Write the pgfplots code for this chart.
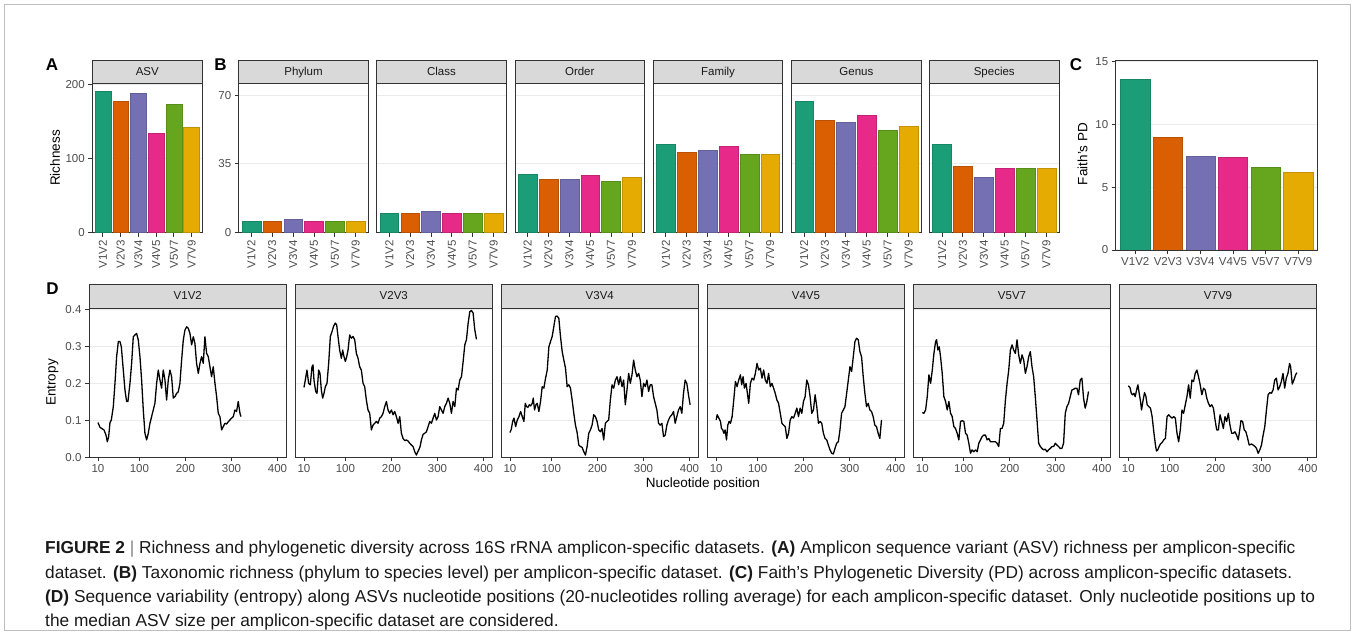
\documentclass[border=0pt]{standalone}
\usepackage{pgfplots}
\pgfplotsset{compat=1.18}
\usepackage{pgfplotstable}
\usepackage{fontspec}
\setmainfont{Liberation Sans}
\definecolor{cA}{HTML}{1B9E77}
\definecolor{cB}{HTML}{D95F02}
\definecolor{cC}{HTML}{7570B3}
\definecolor{cD}{HTML}{E7298A}
\definecolor{cE}{HTML}{66A61E}
\definecolor{cF}{HTML}{E6AB02}
\definecolor{g20}{HTML}{333333}
\definecolor{g30}{HTML}{4D4D4D}
\definecolor{g85}{HTML}{D9D9D9}
\definecolor{g92}{HTML}{EBEBEB}
\newcommand\tickfont{\fontsize{11.5}{13}\selectfont}
\newcommand\stripfont{\fontsize{11.5}{13}\selectfont}
\newcommand\titlefont{\fontsize{13.5}{16}\selectfont}
\newcommand\capfont{\fontsize{17.3}{20}\selectfont}
\pgfplotsset{
  gg/.style={
    scale only axis,
    axis line style={draw=g20, line width=0.9pt},
    tick style={draw=g20, line width=0.9pt},
    major tick length=4pt,
    tick align=outside,
    tick pos=left,
    ymajorgrids, grid style={draw=g92, line width=1pt},
    tick label style={font=\tickfont, text=g30},
    /pgf/number format/assume math mode=true,
  },
  bars/.style={gg, xmin=0.4, xmax=6.6, xtick={1,2,3,4,5,6},
    xticklabels={V1V2,V2V3,V3V4,V4V5,V5V7,V7V9}},
  rotx/.style={x tick label style={rotate=90, anchor=east}},
  noy/.style={yticklabels={}, ytick style={draw=none}},
  bb/.style={ybar, fill=#1, draw=#1!85!black, line width=0.4pt, bar width=0.9, bar shift=0pt},
  strip/.style 2 args={after end axis/.append code={
     \draw[fill=g85, draw=g20, line width=0.9pt] (rel axis cs:0,1) rectangle ([yshift=#2]rel axis cs:1,1);
     \node[font=\stripfont, text=black!90, text height=8.4pt, text depth=2.3pt, inner sep=0pt] at ([yshift=#2/2]rel axis cs:0.5,1) {#1};}},
  ent/.style={gg, xmin=-9.5, xmax=419.5, ymin=0, ymax=0.403,
    xtick={10,100,200,300,400}, ytick={0,0.1,0.2,0.3,0.4},
    width=197.5pt, height=149pt, anchor=north west},
  eline/.style={black, line width=1.3pt, line join=round, mark=none},
}
\newcommand\sixbars[6]{%
  \addplot[bb=cA] coordinates {(1,#1)};
  \addplot[bb=cB] coordinates {(2,#2)};
  \addplot[bb=cC] coordinates {(3,#3)};
  \addplot[bb=cD] coordinates {(4,#4)};
  \addplot[bb=cE] coordinates {(5,#5)};
  \addplot[bb=cF] coordinates {(6,#6)};}

\pgfplotstableread{
x y
10 0.094
14.4 0.081
18.0 0.078
23.1 0.074
27.4 0.060
30.3 0.042
33.2 0.056
36.1 0.094
39.0 0.101
43.3 0.137
46.9 0.200
50.5 0.272
54.2 0.313
57.8 0.313
60.7 0.299
65.0 0.236
68.6 0.182
72.2 0.151
75.1 0.151
79.5 0.200
83.1 0.254
86.7 0.326
90.3 0.331
93.9 0.335
97.6 0.317
101.2 0.272
104.8 0.209
108.4 0.128
112.0 0.065
115.6 0.047
119.3 0.065
122.9 0.092
126.5 0.110
130.1 0.128
133.7 0.146
137.4 0.200
141.0 0.236
144.6 0.209
148.2 0.187
151.8 0.236
155.5 0.209
159.1 0.155
162.7 0.209
166.3 0.236
169.9 0.218
173.6 0.160
177.2 0.164
180.8 0.173
184.4 0.177
188.0 0.200
191.7 0.263
195.3 0.317
198.9 0.344
202.5 0.353
206.1 0.349
209.8 0.335
213.4 0.304
217.0 0.326
220.6 0.308
224.2 0.254
227.9 0.227
231.5 0.254
235.1 0.272
238.7 0.254
242.3 0.326
246.0 0.281
249.6 0.272
253.2 0.245
256.8 0.218
260.4 0.245
264.1 0.200
267.7 0.164
271.3 0.119
274.9 0.110
278.5 0.074
282.2 0.083
285.8 0.092
289.4 0.090
293.0 0.096
296.6 0.101
300.3 0.106
303.9 0.110
307.5 0.128
311.1 0.124
314.7 0.151
318.4 0.119
320.5 0.110
}\dA
\pgfplotstableread{
x y
10 0.189
12.9 0.209
16.5 0.236
20.1 0.200
23.8 0.196
27.4 0.245
29.6 0.250
31.7 0.209
35.4 0.178
38.3 0.173
41.9 0.236
44.8 0.227
47.7 0.182
50.6 0.160
53.5 0.173
56.4 0.191
60.0 0.200
63.6 0.254
67.3 0.327
70.9 0.340
74.5 0.355
78.1 0.363
81.0 0.358
83.9 0.327
87.5 0.290
91.2 0.268
94.1 0.290
97.0 0.272
99.9 0.259
102.8 0.272
105.7 0.290
109.3 0.331
112.9 0.322
116.5 0.327
120.2 0.318
123.8 0.281
127.4 0.268
131.0 0.245
134.6 0.236
138.3 0.200
141.9 0.191
145.5 0.155
149.1 0.128
152.8 0.119
156.4 0.074
160.0 0.087
163.6 0.092
167.3 0.097
170.9 0.092
174.5 0.106
178.1 0.110
181.7 0.119
185.4 0.137
189.0 0.151
192.6 0.128
196.2 0.119
199.9 0.128
203.5 0.115
207.1 0.124
210.7 0.110
214.4 0.092
218.0 0.110
221.6 0.065
225.2 0.051
228.9 0.045
232.5 0.047
236.1 0.044
239.7 0.038
243.4 0.033
247.0 0.029
250.6 0.015
254.2 0.006
256.4 0.013
259.3 0.020
262.2 0.029
265.1 0.047
268.7 0.062
272.3 0.065
276.0 0.069
279.6 0.083
283.2 0.097
286.8 0.092
290.5 0.106
294.1 0.119
297.7 0.101
301.3 0.110
304.9 0.137
308.6 0.128
312.2 0.119
315.8 0.137
319.4 0.146
323.1 0.160
326.7 0.146
330.3 0.119
333.9 0.151
337.6 0.137
341.2 0.187
344.8 0.182
348.4 0.209
352.1 0.218
355.7 0.259
359.3 0.304
362.9 0.318
366.6 0.363
370.2 0.394
373.8 0.397
377.4 0.390
381.0 0.345
384.7 0.319
}\dB
\pgfplotstableread{
x y
10 0.067
12.9 0.076
15.8 0.097
18.7 0.106
22.3 0.083
25.9 0.101
29.5 0.110
33.1 0.124
36.7 0.110
40.3 0.097
43.2 0.146
46.1 0.137
49.0 0.135
51.9 0.142
54.8 0.139
58.4 0.146
60.5 0.160
63.4 0.128
66.3 0.142
69.2 0.146
72.8 0.124
76.4 0.151
80.0 0.191
83.6 0.187
87.3 0.214
90.9 0.236
94.5 0.299
98.1 0.313
101.7 0.327
105.3 0.354
108.9 0.381
112.5 0.382
116.1 0.376
119.7 0.327
123.4 0.286
127.0 0.263
130.6 0.241
134.2 0.191
137.8 0.196
141.4 0.187
145.0 0.155
148.6 0.119
152.2 0.087
155.8 0.067
159.5 0.033
163.1 0.029
166.7 0.027
170.3 0.015
173.9 0.006
177.5 0.029
181.1 0.065
184.7 0.074
188.3 0.087
191.9 0.115
195.6 0.110
199.2 0.097
202.8 0.074
206.4 0.069
210.0 0.078
213.6 0.047
217.2 0.092
220.8 0.097
224.4 0.101
228.0 0.155
231.7 0.196
235.3 0.187
238.9 0.209
242.5 0.218
246.1 0.196
249.7 0.218
253.3 0.191
256.9 0.209
260.5 0.142
264.1 0.182
267.8 0.227
271.4 0.200
275.0 0.223
278.6 0.263
282.2 0.236
285.8 0.218
289.4 0.227
293.0 0.209
296.6 0.164
300.2 0.200
303.9 0.191
307.5 0.209
311.1 0.178
314.7 0.196
318.3 0.196
321.9 0.164
325.5 0.146
329.1 0.128
332.7 0.092
336.3 0.087
340.0 0.092
343.6 0.056
347.2 0.060
350.8 0.087
354.4 0.101
358.0 0.110
361.6 0.115
365.2 0.124
368.8 0.092
372.4 0.110
376.1 0.128
379.7 0.137
383.3 0.119
386.9 0.173
390.5 0.209
394.1 0.200
397.7 0.169
401.3 0.142
}\dC
\pgfplotstableread{
x y
10 0.101
12.2 0.115
15.8 0.106
19.4 0.097
21.5 0.078
24.4 0.074
26.6 0.065
29.5 0.074
32.4 0.047
35.2 0.087
38.1 0.097
41.0 0.092
44.6 0.110
48.2 0.155
51.8 0.205
55.4 0.191
59.0 0.209
62.6 0.223
65.5 0.196
68.4 0.218
71.3 0.187
74.9 0.200
77.8 0.173
80.7 0.146
84.3 0.200
87.9 0.214
91.5 0.209
95.1 0.227
98.7 0.254
102.3 0.236
105.9 0.241
109.5 0.214
113.1 0.236
116.7 0.209
120.3 0.200
123.9 0.227
127.5 0.191
131.1 0.200
134.7 0.187
138.3 0.173
141.9 0.155
145.5 0.146
149.2 0.119
152.8 0.092
156.4 0.087
160.0 0.083
163.6 0.051
167.2 0.065
170.8 0.101
174.4 0.110
178.0 0.106
181.6 0.119
185.2 0.133
188.8 0.110
192.4 0.133
196.0 0.119
199.6 0.151
203.2 0.164
206.8 0.209
210.4 0.196
214.0 0.164
217.6 0.119
221.3 0.128
224.9 0.169
228.5 0.137
232.1 0.092
235.7 0.097
239.3 0.092
242.9 0.065
246.5 0.051
250.1 0.047
253.7 0.033
257.3 0.020
260.9 0.011
264.5 0.009
268.1 0.024
271.7 0.038
275.3 0.042
278.9 0.074
282.4 0.119
286.1 0.128
289.7 0.137
293.4 0.173
297.0 0.209
300.6 0.245
304.2 0.232
307.8 0.272
311.4 0.313
315.0 0.322
318.6 0.318
322.2 0.286
325.8 0.272
329.4 0.218
333.0 0.173
336.6 0.137
340.2 0.146
343.8 0.128
347.4 0.124
351.0 0.110
354.6 0.087
358.2 0.083
361.8 0.065
365.5 0.051
369.1 0.101
}\dD
\pgfplotstableread{
x y
10 0.121
13.6 0.119
17.2 0.128
20.8 0.164
24.4 0.223
28.1 0.200
31.7 0.236
35.3 0.281
38.9 0.313
41.1 0.318
43.9 0.290
46.8 0.299
49.7 0.272
53.3 0.227
56.9 0.164
60.6 0.151
64.2 0.128
67.8 0.151
71.4 0.119
75.0 0.110
78.6 0.083
82.2 0.078
85.8 0.065
89.4 0.047
93.1 0.097
96.7 0.099
100.3 0.097
103.9 0.065
107.5 0.060
111.1 0.038
114.7 0.011
118.3 0.020
121.9 0.015
125.6 0.020
129.2 0.015
132.8 0.038
136.4 0.047
140.0 0.056
143.6 0.060
147.2 0.060
150.8 0.047
154.4 0.051
158.1 0.042
161.7 0.042
165.3 0.042
168.9 0.042
172.5 0.038
176.1 0.029
179.7 0.078
183.3 0.078
186.9 0.092
190.6 0.155
194.2 0.200
197.8 0.236
201.4 0.290
205.0 0.304
208.6 0.290
212.2 0.281
215.8 0.318
219.4 0.277
223.0 0.254
226.7 0.277
230.3 0.263
233.9 0.227
237.5 0.245
241.1 0.272
244.7 0.286
248.3 0.245
251.9 0.218
255.5 0.164
259.2 0.101
262.8 0.038
266.4 0.029
270.0 0.024
273.6 0.020
277.2 0.022
280.8 0.015
284.4 0.020
288.0 0.024
291.7 0.029
295.3 0.029
298.9 0.038
302.5 0.033
306.1 0.029
309.7 0.024
313.3 0.024
316.9 0.038
320.6 0.119
324.2 0.137
327.8 0.146
331.4 0.164
335.0 0.182
338.6 0.184
342.2 0.187
345.8 0.187
349.4 0.169
353.1 0.209
356.7 0.214
360.3 0.160
363.9 0.133
367.5 0.151
371.1 0.178
}\dE
\pgfplotstableread{
x y
10 0.193
13.6 0.189
16.5 0.173
19.4 0.169
22.2 0.173
25.1 0.164
28.0 0.182
30.9 0.196
33.7 0.173
36.6 0.151
38.8 0.128
41.7 0.151
45.3 0.175
48.1 0.166
51.0 0.142
54.6 0.137
58.2 0.133
61.8 0.110
65.4 0.069
69.0 0.033
71.2 0.017
74.0 0.020
76.9 0.029
79.8 0.036
83.4 0.040
87.0 0.047
90.6 0.051
94.2 0.110
97.8 0.115
101.4 0.110
105.0 0.106
108.6 0.110
112.2 0.106
115.8 0.065
119.4 0.042
123.0 0.074
126.6 0.128
130.2 0.119
133.8 0.142
137.4 0.164
141.0 0.196
144.6 0.160
148.2 0.209
151.8 0.205
155.4 0.227
159.0 0.236
162.6 0.218
166.2 0.196
169.8 0.169
173.4 0.187
177.0 0.182
180.5 0.160
184.1 0.146
187.7 0.137
191.3 0.142
194.9 0.133
198.5 0.101
202.1 0.074
205.7 0.074
209.3 0.115
212.9 0.097
216.5 0.078
220.1 0.110
223.7 0.097
227.3 0.119
230.9 0.087
234.5 0.065
238.1 0.065
241.7 0.069
245.3 0.060
248.9 0.047
252.5 0.078
254.7 0.099
258.3 0.097
261.9 0.074
265.5 0.069
268.3 0.056
272.7 0.033
277.7 0.036
281.3 0.033
285.6 0.029
288.5 0.024
292.1 0.011
295.7 0.020
299.3 0.033
302.9 0.060
306.5 0.083
310.1 0.128
313.7 0.169
317.3 0.175
320.9 0.173
324.5 0.182
328.1 0.209
331.7 0.214
335.3 0.182
338.9 0.191
342.5 0.205
346.1 0.227
349.7 0.187
353.2 0.214
356.8 0.227
360.4 0.254
362.6 0.245
366.2 0.198
369.8 0.209
373.4 0.223
376.3 0.229
}\dF

\begin{document}
\begin{tikzpicture}[x=1pt,y=1pt]
% outer frame
\draw[draw=black!25, line width=0.8pt] (4.5,4.5) rectangle (1350.5,630.5);

% ---------- Panel A ----------
\begin{axis}[bars, rotx, at={(92.3pt,551.7pt)}, anchor=north west,
  width=110pt, height=149.4pt, ymin=0, ymax=202, ytick={0,100,200},
  strip={ASV}{22.6pt}]
\sixbars{191}{178}{188}{135}{174}{142}
\end{axis}

% ---------- Panel B ----------
\begin{axis}[bars, rotx, at={(238.8pt,551.7pt)}, anchor=north west,
  width=129.5pt, height=149.4pt, ymin=0, ymax=76, ytick={0,35,70},
  strip={Phylum}{22.6pt}]
\sixbars{6}{6}{7}{6}{6}{6}
\end{axis}
\begin{axis}[bars, rotx, noy, at={(376.7pt,551.7pt)}, anchor=north west,
  width=129.5pt, height=149.4pt, ymin=0, ymax=76, ytick={0,35,70},
  strip={Class}{22.6pt}]
\sixbars{10}{10}{11}{10}{10}{10}
\end{axis}
\begin{axis}[bars, rotx, noy, at={(515pt,551.7pt)}, anchor=north west,
  width=129.5pt, height=149.4pt, ymin=0, ymax=76, ytick={0,35,70},
  strip={Order}{22.6pt}]
\sixbars{30}{27}{27}{29}{26}{28}
\end{axis}
\begin{axis}[bars, rotx, noy, at={(653.3pt,551.7pt)}, anchor=north west,
  width=129.5pt, height=149.4pt, ymin=0, ymax=76, ytick={0,35,70},
  strip={Family}{22.6pt}]
\sixbars{45}{41}{42}{44}{40}{40}
\end{axis}
\begin{axis}[bars, rotx, noy, at={(791.6pt,551.7pt)}, anchor=north west,
  width=129.5pt, height=149.4pt, ymin=0, ymax=76, ytick={0,35,70},
  strip={Genus}{22.6pt}]
\sixbars{67}{57}{56}{60}{52}{54}
\end{axis}
\begin{axis}[bars, rotx, noy, at={(929.5pt,551.7pt)}, anchor=north west,
  width=129.5pt, height=149.4pt, ymin=0, ymax=76, ytick={0,35,70},
  strip={Species}{22.6pt}]
\sixbars{45}{34}{28}{33}{33}{33}
\end{axis}

% ---------- Panel C ----------
\begin{axis}[bars, at={(1115.7pt,574.3pt)}, anchor=north west,
  width=202pt, height=189.3pt, ymin=0, ymax=15.1, ytick={0,5,10,15}]
\sixbars{13.64}{8.99}{7.50}{7.42}{6.62}{6.19}
\end{axis}

% ---------- Panel D ----------
\begin{axis}[ent, at={(89pt,326.7pt)}, strip={V1V2}{24pt},
  yticklabel style={/pgf/number format/.cd, fixed, fixed zerofill, precision=1}]
\addplot[eline] table[x=x,y=y] {\dA};
\end{axis}
\begin{axis}[ent, noy, at={(295pt,326.7pt)}, strip={V2V3}{24pt}]
\addplot[eline] table[x=x,y=y] {\dB};
\end{axis}
\begin{axis}[ent, noy, at={(501pt,326.7pt)}, strip={V3V4}{24pt}]
\addplot[eline] table[x=x,y=y] {\dC};
\end{axis}
\begin{axis}[ent, noy, at={(707.2pt,326.7pt)}, strip={V4V5}{24pt}]
\addplot[eline] table[x=x,y=y] {\dD};
\end{axis}
\begin{axis}[ent, noy, at={(913.3pt,326.7pt)}, strip={V5V7}{24pt}]
\addplot[eline] table[x=x,y=y] {\dE};
\end{axis}
\begin{axis}[ent, noy, at={(1119.3pt,326.7pt)}, strip={V7V9}{24pt}]
\addplot[eline] table[x=x,y=y] {\dF};
\end{axis}

% ---------- labels ----------
\node[font=\bfseries\fontsize{17}{20}\selectfont] at (52,570) {A};
\node[font=\bfseries\fontsize{17}{20}\selectfont] at (220.5,570) {B};
\node[font=\bfseries\fontsize{17}{20}\selectfont] at (1076,570) {C};
\node[font=\bfseries\fontsize{17}{20}\selectfont] at (52.5,346) {D};
\node[font=\titlefont, rotate=90] at (55,477) {Richness};
\node[font=\titlefont, rotate=90] at (1082.5,481) {Faith's PD};
\node[font=\titlefont, rotate=90] at (52.5,252.5) {Entropy};
\node[font=\titlefont] at (703,151) {Nucleotide position};

% ---------- caption ----------
\begin{scope}[every node/.style={font=\capfont, anchor=base west, inner sep=0pt, text=black!90}]
\node at (45,81.5) {\textbf{FIGURE 2} {\color{black!50}|} Richness and phylogenetic diversity across 16S rRNA amplicon-specific datasets. \textbf{(A)} Amplicon sequence variant (ASV) richness per amplicon-specific};
\node at (45,57) {dataset. \textbf{(B)} Taxonomic richness (phylum to species level) per amplicon-specific dataset. \textbf{(C)} Faith’s Phylogenetic Diversity (PD) across amplicon-specific datasets.};
\node at (45,32.5) {\textbf{(D)} Sequence variability (entropy) along ASVs nucleotide positions (20-nucleotides rolling average) for each amplicon-specific dataset. Only nucleotide positions up to};
\node at (45,8.5) {the median ASV size per amplicon-specific dataset are considered.};
\end{scope}

\pgfresetboundingbox
\path[use as bounding box] (0,0) rectangle (1355,635);
\end{tikzpicture}
\end{document}
